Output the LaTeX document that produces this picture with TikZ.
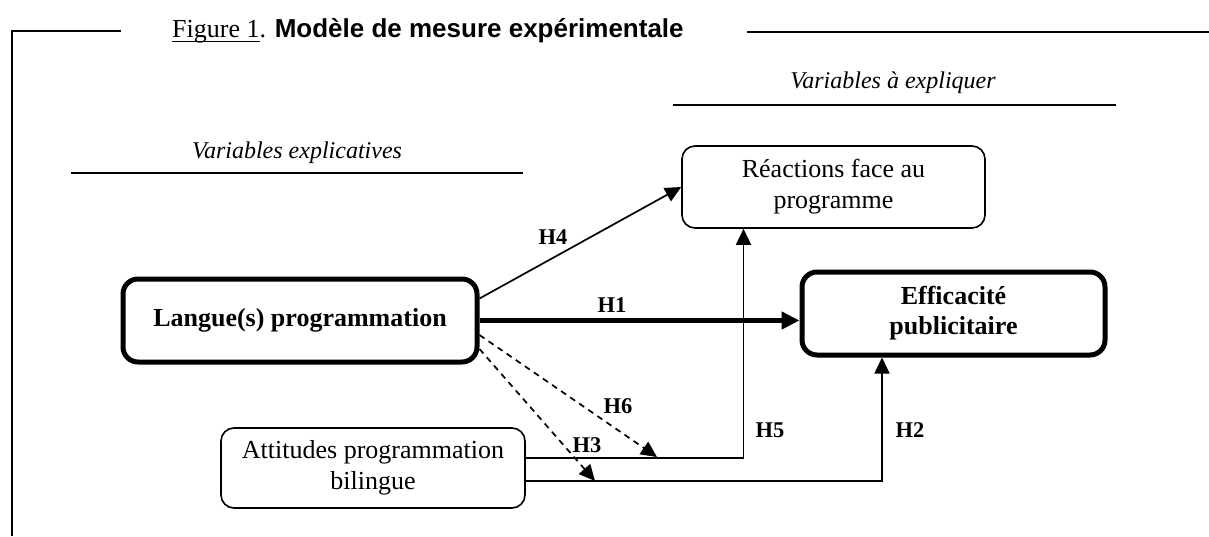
\documentclass[tikz,border=0pt]{standalone}
\usepackage{fontspec}
\setmainfont{Liberation Serif}
\setsansfont{Liberation Sans}
\usetikzlibrary{arrows.meta}

\begin{document}
\begin{tikzpicture}[x=1pt,y=-1pt,
  box/.style={draw, rounded corners=13pt, line width=1.6pt, align=center, inner sep=0pt,
    font=\fontsize{26}{31}\selectfont},
  boldbox/.style={box, line width=5pt, rounded corners=15pt,
    font=\fontsize{26}{30}\selectfont\bfseries},
  link/.style={line width=1.7pt, -{Triangle[length=16pt,width=15pt]}},
  strong/.style={line width=5pt, -{Triangle[length=18pt,width=17pt]}},
  dlink/.style={link, dash pattern=on 6pt off 5pt},
  hyp/.style={inner sep=0pt, font=\fontsize{22.5}{26}\selectfont\bfseries},
  heading/.style={anchor=base, inner sep=0pt, font=\fontsize{24}{28}\selectfont\itshape},
  rule/.style={line width=1.7pt}
]
\useasboundingbox (0,0) rectangle (1209,536);

% frame and title
\draw[rule] (121,31) -- (12,31) -- (12,536);
\draw[rule] (747,32) -- (1209,32);
\node[anchor=base west, inner sep=0pt, font=\fontsize{26}{30}\selectfont] (title) at (172,37)
  {Figure 1. {\sffamily\bfseries Modèle de mesure expérimentale}};
\draw[line width=1.8pt] ([yshift=-4.5pt]title.base west) -- ++(88,0);

% column headings
\node[heading] (hexp) at (297,158) {Variables explicatives};
\draw[rule] (71,173) -- (523,173);
\node[heading] (hdep) at (893,88) {Variables à expliquer};
\draw[rule] (673,105) -- (1116,105);

% variables
\node[box, minimum width=303pt, minimum height=82pt] (react) at (833.5,187)
  {Réactions face au\\programme};
\node[boldbox, minimum width=303pt, minimum height=83pt] (eff) at (953.5,313.5)
  {Efficacité\\publicitaire};
\node[boldbox, minimum width=354pt, minimum height=83pt] (lang) at (300,320.5)
  {Langue(s) programmation};
\node[box, minimum width=304pt, minimum height=80pt] (att) at (373,468)
  {Attitudes programmation\\bilingue};

% hypotheses
\draw[link] ([yshift=22pt]lang.east) -- (react.west);
\draw[strong] (lang.east) -- (lang.east -| eff.west);
\draw[link] ([yshift=10pt]att.east) -| ([xshift=-90pt]react.south);
\draw[link] ([yshift=-13pt]att.east) -| ([xshift=-71.5pt]eff.south);
\coordinate (h6end) at (657,457);
\coordinate (h3end) at (595,481);
\draw[dlink] ([yshift=-14.5pt]lang.east) -- (h6end);
\draw[dlink] ([yshift=-28.5pt]lang.east) -- (h3end);

\node[hyp] (lh4) at (553,237) {H4};
\node[hyp] (lh1) at (612,305) {H1};
\node[hyp] (lh6) at (618,406) {H6};
\node[hyp] (lh3) at (587,445) {H3};
\node[hyp] (lh5) at (770,430) {H5};
\node[hyp] (lh2) at (910,430) {H2};
\end{tikzpicture}
\end{document}
